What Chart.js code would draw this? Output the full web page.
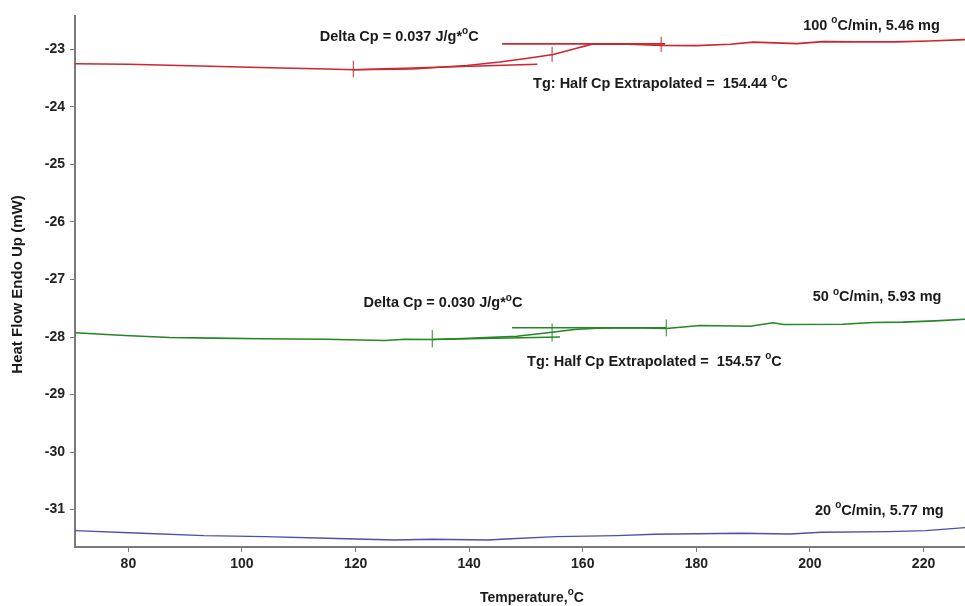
<!DOCTYPE html>
<html>
<head>
<meta charset="utf-8">
<script src="https://cdn.jsdelivr.net/npm/chart.js@4.4.0/dist/chart.umd.min.js"></script>
<style>
html, body { margin: 0; padding: 0; background: #fff; }
#wrap { width: 965px; height: 606px; }
</style>
</head>
<body>
<div id="wrap"><canvas id="dsc" width="965" height="606"></canvas></div>
<script>
// temperature (C) / heat flow (mW)
const redT = [70.6, 80, 92.6, 105, 115, 119.6, 130, 139.6, 145.4, 150, 154.8, 158.6, 161.8, 168, 174, 180, 186, 190, 197.7, 202.3, 208, 215, 221, 227.3];
const redV = [-23.25, -23.26, -23.29, -23.32, -23.34, -23.355, -23.34, -23.28, -23.22, -23.16, -23.09, -22.99, -22.905, -22.91, -22.93, -22.935, -22.91, -22.875, -22.90, -22.865, -22.87, -22.87, -22.855, -22.83];

const greenT = [70.6, 76.2, 79.4, 87.3, 95, 103.5, 114.6, 125.2, 128.7, 133.5, 138.9, 143, 148.4, 154.6, 158.5, 162.5, 168.7, 174.7, 180.7, 189.5, 193.5, 195.3, 205.8, 211.1, 216.4, 222, 227.3];
const greenV = [-27.927, -27.956, -27.974, -28.009, -28.02, -28.031, -28.038, -28.061, -28.038, -28.044, -28.026, -28.01, -27.986, -27.916, -27.87, -27.845, -27.84, -27.852, -27.80, -27.812, -27.753, -27.782, -27.777, -27.747, -27.742, -27.72, -27.69];

const blueT = [70.6, 82.4, 93.3, 104.1, 115.0, 126.9, 133.5, 143.3, 146.5, 155.3, 166.0, 172.6, 187.9, 196.5, 202.0, 213.9, 220.4, 227.3];
const blueV = [-31.366, -31.411, -31.453, -31.470, -31.498, -31.528, -31.516, -31.528, -31.510, -31.470, -31.453, -31.429, -31.411, -31.423, -31.394, -31.383, -31.366, -31.313];

// onset / half cp / end markers
const redMarkT = [119.6, 154.6, 173.8];
const redMarkLo = [-23.484, -23.218, -23.044];
const redMarkHi = [-23.195, -22.956, -22.78];
const greenMarkT = [133.5, 154.6, 174.7];
const greenMarkLo = [-28.18, -28.08, -27.986];
const greenMarkHi = [-27.88, -27.765, -27.695];

// extrapolated baselines
const redUpT = [145.8, 174.5], redUpV = [-22.904, -22.904];
const redLowT = [119.6, 152.0], redLowV = [-23.355, -23.26];
const greenUpT = [147.55, 174.7], greenUpV = [-27.84, -27.84];
const greenLowT = [133.5, 156.0], greenLowV = [-28.044, -28.0];

const xTicks = [80, 100, 120, 140, 160, 180, 200, 220];
const yTicks = [-23, -24, -25, -26, -27, -28, -29, -30, -31];
const xMin = 70.6, xMax = 227.3;
const yMin = -31.65, yMax = -22.42;

// annotations: text, T, value (left edge, middle)
const notes = [
  ["Delta Cp = 0.037 J/g*°C", 113.7, -22.782],
  ["100 °C/min, 5.46 mg", 198.8, -22.591],
  ["Tg: Half Cp Extrapolated =  154.44 °C", 151.25, -23.601],
  ["Delta Cp = 0.030 J/g*°C", 121.4, -27.416],
  ["50 °C/min, 5.93 mg", 200.5, -27.312],
  ["Tg: Half Cp Extrapolated =  154.57 °C", 150.2, -28.427],
  ["20 °C/min, 5.77 mg", 200.9, -31.025]
];

const RED = "rgb(206,38,44)", GREEN = "rgb(36,134,36)", BLUE = "rgb(78,78,175)";
const FONT = "'Liberation Sans', Arial, sans-serif";

function pts(xs, ys) {
  return xs.map((x, i) => ({x: x, y: ys[i]}));
}
function marks(xs, lo, hi) {
  let out = [];
  for (let i = 0; i < xs.length; i++) {
    out.push({x: xs[i], y: lo[i]}, {x: xs[i], y: hi[i]}, {x: xs[i], y: null});
  }
  return out;
}
function line(data, color, w) {
  return {data: data, borderColor: color, borderWidth: w, pointRadius: 0, fill: false, tension: 0, spanGaps: false};
}

// draws text, turning the degree sign into a small raised "o"
function drawSup(c, text, x, y, size) {
  let parts = text.split("°");
  for (let i = 0; i < parts.length; i++) {
    c.font = "bold " + size + "px " + FONT;
    c.fillText(parts[i], x, y);
    x += c.measureText(parts[i]).width;
    if (i < parts.length - 1) {
      c.font = "bold " + Math.round(size * 0.72) + "px " + FONT;
      c.fillText("o", x, y - size * 0.38);
      x += c.measureText("o").width;
    }
  }
  return x;
}
function supWidth(c, text, size) {
  let parts = text.split("°"), w = 0;
  for (let i = 0; i < parts.length; i++) {
    c.font = "bold " + size + "px " + FONT;
    w += c.measureText(parts[i]).width;
    if (i < parts.length - 1) {
      c.font = "bold " + Math.round(size * 0.72) + "px " + FONT;
      w += c.measureText("o").width;
    }
  }
  return w;
}

const textPlugin = {
  id: "dscText",
  afterDraw(chart) {
    const c = chart.ctx, xs = chart.scales.x, ys = chart.scales.y, a = chart.chartArea;
    c.save();
    c.fillStyle = "#1a1a1a";
    c.textBaseline = "middle";
    c.textAlign = "left";
    notes.forEach(n => {
      drawSup(c, n[0], xs.getPixelForValue(n[1]), ys.getPixelForValue(n[2]), 14.5);
    });
    // axis titles
    let t = "Temperature,°C";
    let w = supWidth(c, t, 14);
    drawSup(c, t, 532 - w / 2, 598, 14);
    c.translate(18, (a.top + a.bottom) / 2 + 3);
    c.rotate(-Math.PI / 2);
    t = "Heat Flow Endo Up (mW)";
    c.font = "bold 15px " + FONT;
    c.textAlign = "center";
    c.fillText(t, 0, 0);
    c.restore();
  }
};

const ctx = document.getElementById("dsc").getContext("2d");
const chart = new Chart(ctx, {
  type: "line",
  data: {
    datasets: [
      line(pts(blueT, blueV), BLUE, 1.4),
      line(pts(greenT, greenV), GREEN, 1.6),
      line(pts(greenUpT, greenUpV), GREEN, 1.6),
      line(pts(greenLowT, greenLowV), GREEN, 1.6),
      line(marks(greenMarkT, greenMarkLo, greenMarkHi), GREEN, 1),
      line(pts(redT, redV), RED, 1.6),
      line(pts(redUpT, redUpV), RED, 1.6),
      line(pts(redLowT, redLowV), RED, 1.6),
      line(marks(redMarkT, redMarkLo, redMarkHi), RED, 1)
    ]
  },
  options: {
    responsive: false,
    animation: false,
    layout: {padding: {top: 16, left: 0, right: 0, bottom: 0}},
    plugins: {legend: {display: false}, tooltip: {enabled: false}},
    scales: {
      x: {
        type: "linear",
        min: xMin,
        max: xMax,
        afterBuildTicks: s => { s.ticks = xTicks.map(v => ({value: v})); },
        afterFit: s => { s.height = 59; },
        grid: {drawOnChartArea: false, drawTicks: true, tickLength: 5, color: "#7a7a7a"},
        border: {color: "#7a7a7a", width: 2},
        ticks: {color: "#222", padding: 4, maxRotation: 0, font: {family: FONT, weight: "bold", size: 14}}
      },
      y: {
        type: "linear",
        min: yMin,
        max: yMax,
        afterBuildTicks: s => { s.ticks = yTicks.map(v => ({value: v})); },
        afterFit: s => { s.width = 75; },
        grid: {drawOnChartArea: false, drawTicks: true, tickLength: 5, color: "#7a7a7a"},
        border: {color: "#7a7a7a", width: 2},
        ticks: {color: "#222", padding: 5, font: {family: FONT, weight: "bold", size: 14}}
      }
    }
  },
  plugins: [textPlugin]
});
</script>
</body>
</html>
